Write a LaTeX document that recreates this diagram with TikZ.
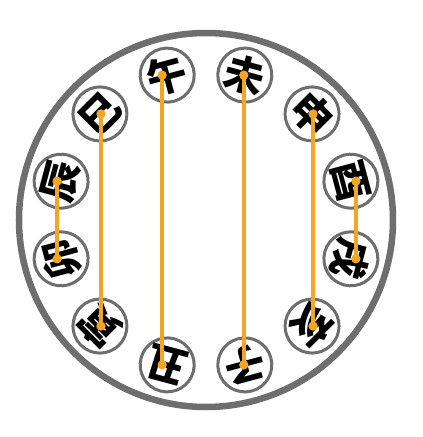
\documentclass[tikz,border=0pt]{standalone}
\usepackage{fontspec}
\newfontfamily\cjk{Noto Sans CJK SC}
\usepackage{xcolor}
\usepackage{tikz}
\usetikzlibrary{shapes.geometric, arrows.meta}
\definecolor{rimgray}{HTML}{6E6E6E}
\definecolor{lorange}{HTML}{F2A623}
\tikzstyle{rim} = [circle, 
minimum size=374pt, 
line width=6.5pt, 
draw=rimgray]
\tikzstyle{branch} = [circle, 
minimum size=54pt, 
inner sep=-9pt, 
line width=3pt, 
draw=rimgray, 
fill=white, 
font=\cjk\bfseries\fontsize{40}{40}\selectfont]
\tikzstyle{link} = [line width=4.2pt, draw=lorange, 
{Circle[length=9pt]}-{Circle[length=9pt]}, 
shorten <=-4.5pt, shorten >=-4.5pt]

\begin{document}
\begin{tikzpicture}
\useasboundingbox (-206pt,-217pt) rectangle (217pt,220pt);
\node (dial) [rim] at (0,0) {};
\node (wu) [branch, rotate=15] at (105:150pt) {午};
\node (wei) [branch, rotate=-15] at (75:150pt) {未};
\node (shen) [branch, rotate=-45] at (45:150pt) {申};
\node (you) [branch, rotate=-75] at (15:150pt) {酉};
\node (xu) [branch, rotate=-105] at (-15:150pt) {戌};
\node (hai) [branch, rotate=-135] at (-45:150pt) {亥};
\node (zi) [branch, rotate=-165] at (-75:150pt) {子};
\node (chou) [branch, rotate=165] at (-105:150pt) {丑};
\node (yin) [branch, rotate=135] at (-135:150pt) {寅};
\node (mao) [branch, rotate=105] at (-165:150pt) {卯};
\node (chen) [branch, rotate=75] at (165:150pt) {辰};
\node (si) [branch, rotate=45] at (135:150pt) {巳};

% pairs
\draw [link] ([xshift=-4pt]chen.center) -- ([xshift=-4pt]mao.center);
\draw [link] ([xshift=1pt]si.center) -- ([xshift=1pt]yin.center);
\draw [link] ([xshift=-5pt]wu.center) -- ([xshift=-5pt]chou.center);
\draw [link] ([xshift=-1pt]wei.center) -- ([xshift=-1pt]zi.center);
\draw [link] ([xshift=1pt]shen.center) -- ([xshift=1pt]hai.center);
\draw [link] ([xshift=5pt]you.center) -- ([xshift=5pt]xu.center);

\end{tikzpicture}
\end{document}
